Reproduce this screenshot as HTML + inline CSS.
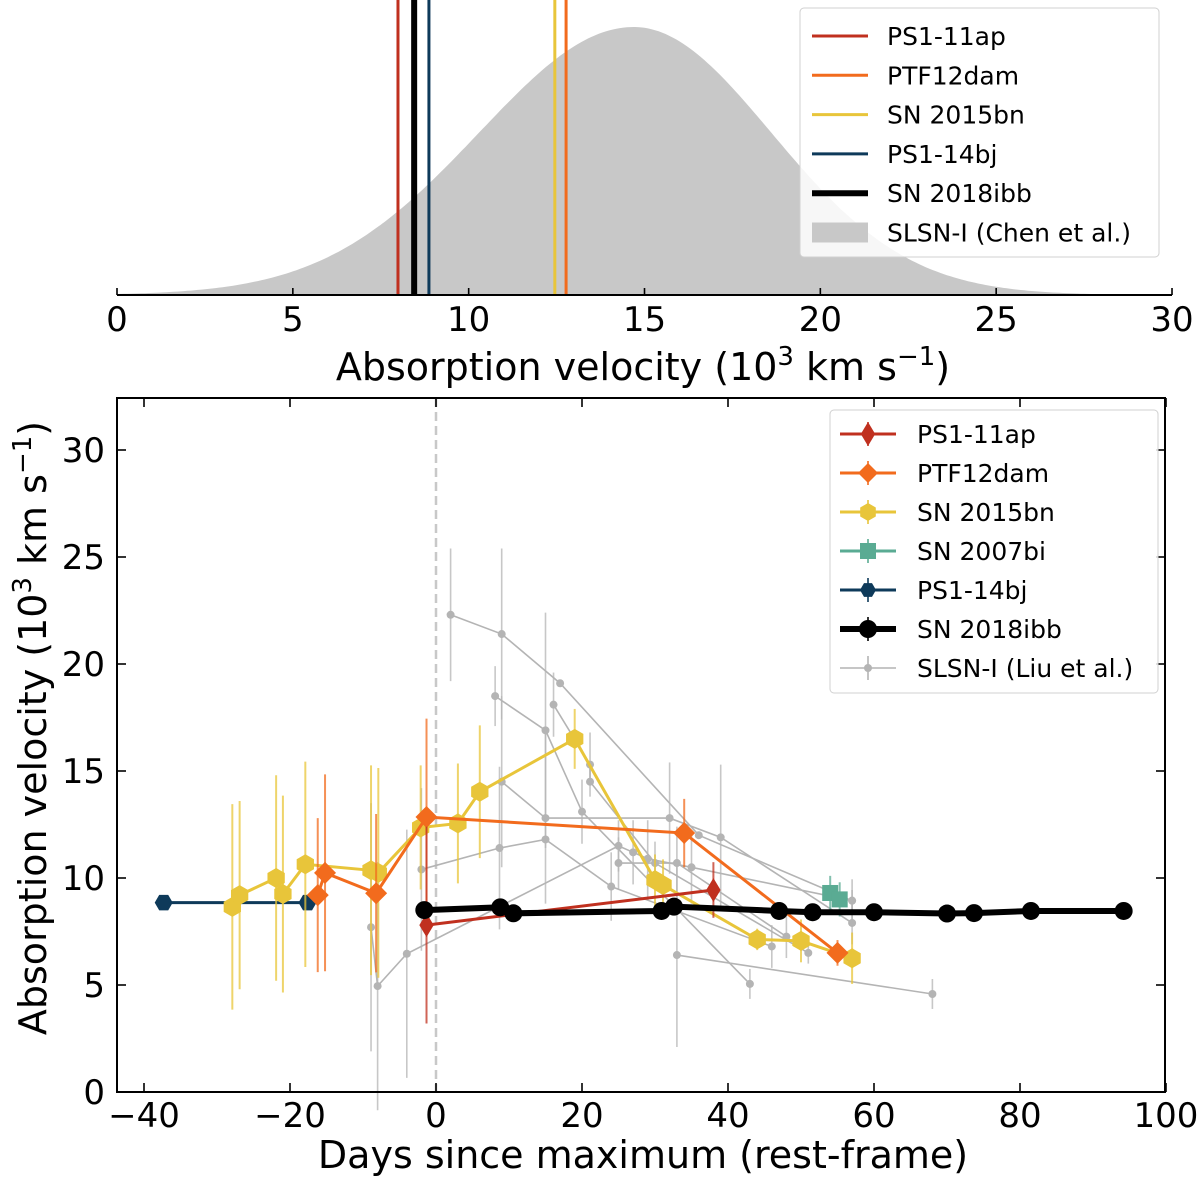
<!DOCTYPE html>
<html><head><meta charset="utf-8"><style>
body{margin:0;background:#fff}
svg{display:block;font-family:"DejaVu Sans","Liberation Sans",sans-serif}
</style></head><body>
<svg id="chart" width="1200" height="1187" viewBox="0 0 1200 1187" xmlns="http://www.w3.org/2000/svg"></svg>
<script>
// ---------- data ----------
const topNames = ["PS1-11ap","SN 2018ibb","PS1-14bj","SN 2015bn","PTF12dam"];
const topVel = [7.99, 8.45, 8.87, 12.45, 12.77];
const distPeak = 14.7, distSigL = 4.4, distSigR = 3.9;
const topTicks = [0,5,10,15,20,25,30];

const ps11apDays = [-1.3, 38];
const ps11apVel = [7.8, 9.44];
const ps11apErr = [4.6, 1.3];
const ptfDays = [-16.2, -15.2, -8.2, -1.3, 34, 55];
const ptfVel = [9.2, 10.24, 9.29, 12.85, 12.1, 6.5];
const ptfErr = [3.6, 4.6, 3.7, 4.6, 1.6, 0.6];
const sn15Days = [-27.9, -26.9, -21.9, -20.97, -17.9, -8.9, -7.9, -2.1, 3, 6, 19, 30, 31.1, 44, 50, 57];
const sn15Vel = [8.65, 9.2, 10.0, 9.25, 10.64, 10.36, 10.24, 12.36, 12.55, 14.03, 16.5, 9.9, 9.67, 7.13, 7.06, 6.25];
const sn15Err = [4.8, 4.4, 4.8, 4.6, 4.8, 4.9, 4.9, 2.9, 2.8, 3.1, 1.4, 1.2, 1.2, 0.5, 1.0, 1.2];
const sn07Days = [54, 55.3];
const sn07Vel = [9.3, 9.0];
const sn07Err = [0.8, 0.8];
const ps14Days = [-37.3, -17.6];
const ps14Vel = [8.85, 8.85];
const ibbDays = [-1.6, 8.8, 10.6, 30.9, 32.6, 47, 51.6, 60, 70, 73.7, 81.5, 94.2];
const ibbVel = [8.5, 8.63, 8.35, 8.46, 8.66, 8.46, 8.4, 8.4, 8.34, 8.36, 8.46, 8.46];
const liuDays = [
 [2, 9, 17, 36, 57],
 [8.1, 15, 20, 43],
 [16.1, 21.1, 21.1, 30, 51],
 [-2, 8.7, 15, 24, 46],
 [-8.9, -8, -4, 25, 27, 29, 35, 57],
 [25, 33, 48],
 [33, 68],
 [9, 15, 32, 39, 57]
];
const liuVel = [
 [22.3, 21.4, 19.1, 12.0, 8.94],
 [18.5, 16.9, 13.1, 5.05],
 [18.1, 15.3, 14.5, 10.7, 6.5],
 [10.4, 11.4, 11.8, 9.6, 6.8],
 [7.7, 4.95, 6.46, 11.5, 11.2, 10.9, 10.5, 8.94],
 [10.7, 10.7, 7.26],
 [6.4, 4.58],
 [14.5, 12.8, 12.8, 11.9, 7.9]
];
const liuErr = [
 [3.1, 4.0, 0, 0, 0.5],
 [1.4, 5.5, 1.5, 0.7],
 [1.5, 1.5, 0, 1.0, 0.5],
 [3.8, 3.8, 0, 1.6, 1.0],
 [5.8, 5.8, 5.8, 1.2, 1.5, 1.8, 1.7, 1.0],
 [1.2, 1.7, 1.0],
 [4.3, 0.7],
 [4.0, 4.0, 2.6, 3.4, 1.0]
];
const xTicks = [-40,-20,0,20,40,60,80,100];
const yTicks = [0,5,10,15,20,25,30];

// ---------- scales ----------
const tx = v => 117 + v * 35.167;
const bx = d => 436 + d * 7.3;
const by = v => 1092 - v * 21.4;
const NS = "http://www.w3.org/2000/svg";
const svg = document.getElementById("chart");
function mk(tag, attrs, parent) {
  const e = document.createElementNS(NS, tag);
  for (const k in attrs) e.setAttribute(k, attrs[k]);
  (parent || svg).appendChild(e);
  return e;
}
const C = {red:"#c0301f", orange:"#f26b1d", yellow:"#e8c53a", teal:"#5aab93", navy:"#0e3a5a", black:"#000", gray:"#b4b4b4"};
const TITLE = 'Absorption velocity (10<tspan dy="-15" font-size="26">3</tspan><tspan dy="15"> km s</tspan><tspan dy="-15" font-size="26">−1</tspan><tspan dy="15">)</tspan>';

// ---------- top panel ----------
const topG = mk("g", {});


let pts = [];
for (let v = 0; v <= 30.001; v += 0.1) {
  const s = v < distPeak ? distSigL : distSigR;
  const h = Math.exp(-((v - distPeak) ** 2) / (2 * s * s));
  pts.push(tx(v).toFixed(1) + "," + (295 - 268 * h).toFixed(1));
}
const dist = mk("polygon", {points: tx(0) + ",295 " + pts.join(" ") + " " + tx(30) + ",295", fill: "#c8c8c8"}, topG);


const topCols = [C.red, C.black, C.navy, C.yellow, C.orange];
topVel.forEach((v, i) => {
  const l = mk("line", {x1: tx(v), x2: tx(v), y1: 0, y2: 295, stroke: topCols[i], "stroke-width": i === 1 ? 6 : 3}, topG);
  
  
});
mk("line", {x1: 117, x2: 1172, y1: 295, y2: 295, stroke: "#000", "stroke-width": 2}, topG);
topTicks.forEach(t => {
  mk("line", {x1: tx(t), x2: tx(t), y1: 288, y2: 295, stroke: "#000", "stroke-width": 1.6}, topG);
  const tt = mk("text", {x: tx(t), y: 331, "font-size": 34, "text-anchor": "middle"}, topG);
  tt.textContent = t;
  
  
});
const topTitle = mk("text", {x: 643, y: 380, "font-size": 38, "text-anchor": "middle"}, topG);
topTitle.innerHTML = TITLE;



// top legend
const tl = mk("g", {}, topG);


mk("rect", {x: 800, y: 8, width: 359, height: 249, rx: 4, fill: "#fff", "fill-opacity": 0.85, stroke: "#d0d0d0"}, tl);
const tlNames = ["PS1-11ap","PTF12dam","SN 2015bn","PS1-14bj","SN 2018ibb","SLSN-I (Chen et al.)"];
const tlCols = [C.red, C.orange, C.yellow, C.navy, C.black, "#c8c8c8"];
tlNames.forEach((n, i) => {
  const y = 36 + i * 39.3;
  const e = mk("g", {}, tl);
  
  
  if (i === 5) mk("rect", {x: 812, y: y - 10, width: 56, height: 20, fill: tlCols[i]}, e);
  else mk("line", {x1: 812, x2: 868, y1: y, y2: y, stroke: tlCols[i], "stroke-width": i === 4 ? 6 : 3}, e);
  const t = mk("text", {x: 887, y: y + 9, "font-size": 25}, e);
  t.textContent = n;
});

// ---------- bottom panel ----------
const bg = mk("g", {});


mk("line", {x1: 436, x2: 436, y1: 398, y2: 1092, stroke: "#c8c8c8", "stroke-width": 2.5, "stroke-dasharray": "9,5"}, bg);

function errbars(g, days, vel, err, col, w) {
  days.forEach((d, i) => {
    if (!err[i]) return;
    mk("line", {x1: bx(d), x2: bx(d), y1: by(vel[i] - err[i]), y2: by(vel[i] + err[i]), stroke: col, "stroke-width": w, "stroke-opacity": 0.75}, g);
  });
}
function poly(g, days, vel, col, w) {
  mk("polyline", {points: days.map((d, i) => bx(d) + "," + by(vel[i])).join(" "), fill: "none", stroke: col, "stroke-width": w}, g);
}
function marker(g, shape, x, y, s, col) {
  if (shape === "circle") return mk("circle", {cx: x, cy: y, r: s, fill: col}, g);
  if (shape === "square") return mk("rect", {x: x - s, y: y - s, width: 2 * s, height: 2 * s, fill: col}, g);
  if (shape === "D") return mk("polygon", {points: `${x},${y - s} ${x + s},${y} ${x},${y + s} ${x - s},${y}`, fill: col}, g);
  if (shape === "d") return mk("polygon", {points: `${x},${y - s} ${x + s * 0.6},${y} ${x},${y + s} ${x - s * 0.6},${y}`, fill: col}, g);
  if (shape === "hex") {
    const p = [];
    for (let k = 0; k < 6; k++) { const a = Math.PI / 3 * k; p.push((x + s * Math.cos(a)) + "," + (y + s * Math.sin(a))); }
    return mk("polygon", {points: p.join(" "), fill: col}, g);
  }
  if (shape === "hexv") {
    const p = [];
    for (let k = 0; k < 6; k++) { const a = Math.PI / 3 * k + Math.PI / 6; p.push((x + s * Math.cos(a)) + "," + (y + s * Math.sin(a))); }
    return mk("polygon", {points: p.join(" "), fill: col}, g);
  }
}
function series(name, days, vel, err, col, lw, shape, ms, ew) {
  const g = mk("g", {}, bg);
  
  
  if (err) errbars(g, days, vel, err, col, ew || 2);
  poly(g, days, vel, col, lw);
  days.forEach((d, i) => {
    const m = marker(g, shape, bx(d), by(vel[i]), ms, col);
    
    
  });
  return g;
}
liuDays.forEach((ds, k) => series("liu-series-" + (k + 1), ds, liuVel[k], liuErr[k], C.gray, 1.6, "circle", 4, 1.6));
series("ps1-14bj-series", ps14Days, ps14Vel, null, C.navy, 3, "hex", 9);
series("sn2015bn-series", sn15Days, sn15Vel, sn15Err, C.yellow, 3, "hexv", 10, 2);
series("ptf12dam-series", ptfDays, ptfVel, ptfErr, C.orange, 3, "D", 11, 2);
series("ps1-11ap-series", ps11apDays, ps11apVel, ps11apErr, C.red, 3, "d", 12, 2);
series("sn2007bi-series", sn07Days, sn07Vel, sn07Err, C.teal, 3, "square", 8, 2);
series("sn2018ibb-series", ibbDays, ibbVel, null, C.black, 6, "circle", 9);

// axes frame
mk("rect", {x: 117, y: 398, width: 1048, height: 694, fill: "none", stroke: "#000", "stroke-width": 2}, bg);
xTicks.forEach(t => {
  mk("line", {x1: bx(t), x2: bx(t), y1: 1092, y2: 1083, stroke: "#000", "stroke-width": 1.6}, bg);
  mk("line", {x1: bx(t), x2: bx(t), y1: 398, y2: 407, stroke: "#000", "stroke-width": 1.6}, bg);
  const tt = mk("text", {x: bx(t), y: 1127, "font-size": 34, "text-anchor": "middle"}, bg);
  tt.textContent = t < 0 ? "−" + Math.abs(t) : t;
  
  
});
yTicks.forEach(t => {
  mk("line", {x1: 117, x2: 126, y1: by(t), y2: by(t), stroke: "#000", "stroke-width": 1.6}, bg);
  mk("line", {x1: 1165, x2: 1156, y1: by(t), y2: by(t), stroke: "#000", "stroke-width": 1.6}, bg);
  const tt = mk("text", {x: 105, y: by(t) + 12, "font-size": 34, "text-anchor": "end"}, bg);
  tt.textContent = t;
  
  
});
const xt = mk("text", {x: 643, y: 1168, "font-size": 38, "text-anchor": "middle"}, bg);
xt.textContent = "Days since maximum (rest-frame)";


const yt = mk("text", {x: 0, y: 0, "font-size": 38, "text-anchor": "middle", transform: "translate(46,728) rotate(-90)"}, bg);
yt.innerHTML = TITLE;



// bottom legend
const bl = mk("g", {}, bg);


mk("rect", {x: 830, y: 410, width: 328, height: 283, rx: 4, fill: "#fff", "fill-opacity": 0.85, stroke: "#d0d0d0"}, bl);
const blNames = ["PS1-11ap","PTF12dam","SN 2015bn","SN 2007bi","PS1-14bj","SN 2018ibb","SLSN-I (Liu et al.)"];
const blCols = [C.red, C.orange, C.yellow, C.teal, C.navy, C.black, C.gray];
const blShapes = ["d","D","hexv","square","hex","circle","circle"];
const blSizes = [12, 10, 9, 8, 8, 9, 4];
blNames.forEach((n, i) => {
  const y = 434 + i * 39;
  const e = mk("g", {}, bl);
  
  
  mk("line", {x1: 840, x2: 896, y1: y, y2: y, stroke: blCols[i], "stroke-width": i === 5 ? 6 : (i === 6 ? 1.6 : 3)}, e);
  mk("line", {x1: 868, x2: 868, y1: y - 12, y2: y + 12, stroke: blCols[i], "stroke-width": 1.6}, e);
  marker(e, blShapes[i], 868, y, blSizes[i], blCols[i]);
  const t = mk("text", {x: 917, y: y + 9, "font-size": 25}, e);
  t.textContent = n;
});
</script>
</body></html>
